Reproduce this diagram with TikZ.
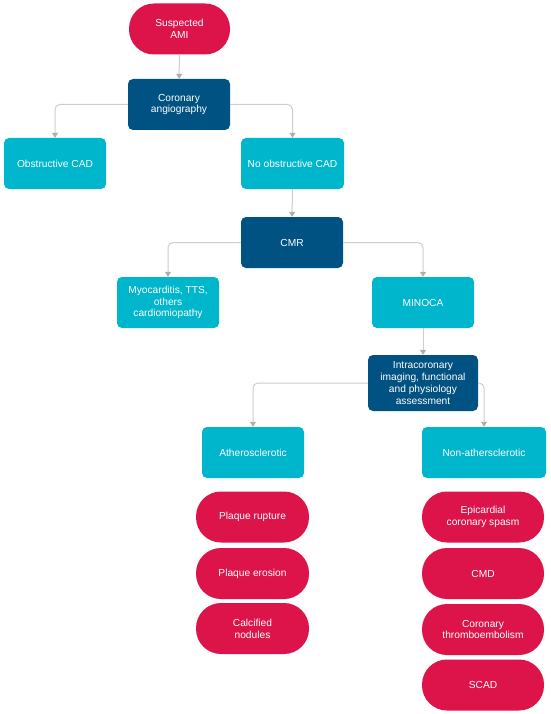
\documentclass[tikz,border=0pt]{standalone}
\usepackage{fontspec}
\setmainfont{Liberation Sans}
\usetikzlibrary{arrows.meta}
\definecolor{amired}{RGB}{220,20,74}
\definecolor{lightcyan}{RGB}{0,182,204}
\definecolor{navy}{RGB}{0,82,130}
\definecolor{linkgray}{RGB}{205,205,205}
\tikzset{font={\fontsize{10.2pt}{11.7pt}\selectfont}}
\tikzset{box/.style={draw=none,fill=#1,text=white,align=center,inner sep=0pt,rounded corners=5pt,minimum height=51pt}}
\tikzset{pill/.style={box=amired,rounded corners=25pt,minimum height=51pt,minimum width=#1}}
\tikzset{link/.style={draw=linkgray,line width=1pt,-{Triangle[width=6pt,length=5pt,color=linkgray!85!black]},rounded corners=5pt}}
\begin{document}
\begin{tikzpicture}[x=1pt,y=1pt]
        \useasboundingbox (0,0) rectangle (550,-714);
        \node[pill=101pt] (ami) at (179.5,-29) {Suspected\\AMI};
        \node[box=navy,minimum width=102pt] (angio) at (179,-104.5) {Coronary\\angiography};
        \node[box=lightcyan,minimum width=102pt] (obst) at (55,-163.5) {Obstructive CAD};
        \node[box=lightcyan,minimum width=103pt] (noobst) at (292.5,-163.5) {No obstructive CAD};
        \node[box=navy,minimum width=102pt] (cmr) at (292,-242.5) {CMR};
        \node[box=lightcyan,minimum width=102pt] (myo) at (168,-302.5) {Myocarditis, TTS,\\others\\cardiomiopathy};
        \node[box=lightcyan,minimum width=102pt] (minoca) at (423,-302.5) {MINOCA};
        \node[box=navy,minimum width=110pt,minimum height=56pt] (intra) at (423,-383) {Intracoronary\\imaging, functional\\and physiology\\assessment};
        \node[box=lightcyan,minimum width=102pt] (ath) at (253,-452.5) {Atherosclerotic};
        \node[box=lightcyan,minimum width=124pt] (nonath) at (484,-452.5) {Non-athersclerotic};
        % atherosclerotic causes
        \foreach \n/\y/\t in {rupture/517/Plaque rupture, erosion/573.5/Plaque erosion, calcified/628.5/Calcified\\nodules}{
            \node[pill=113pt] (\n) at (252.5,-\y) {\t};
        }
        % non-atherosclerotic causes
        \foreach \n/\y/\t in {spasm/517/Epicardial\\coronary spasm, cmd/573.5/CMD, embol/629.5/Coronary\\thromboembolism, scad/685/SCAD}{
            \node[pill=122pt] (\n) at (483,-\y) {\t};
        }
        \path[link] (ami) -- (angio);
        \path[link] (angio.west) -| (obst.north);
        \path[link] (angio.east) -| (noobst.north);
        \path[link] (noobst) -- (cmr);
        \path[link] (cmr.west) -| (myo.north);
        \path[link] (cmr.east) -| (minoca.north);
        \path[link] (minoca) -- (intra);
        \path[link] (intra.west) -| (ath.north);
        \path[link] (intra.east) -| (nonath.north);
    \end{tikzpicture}
\end{document}
